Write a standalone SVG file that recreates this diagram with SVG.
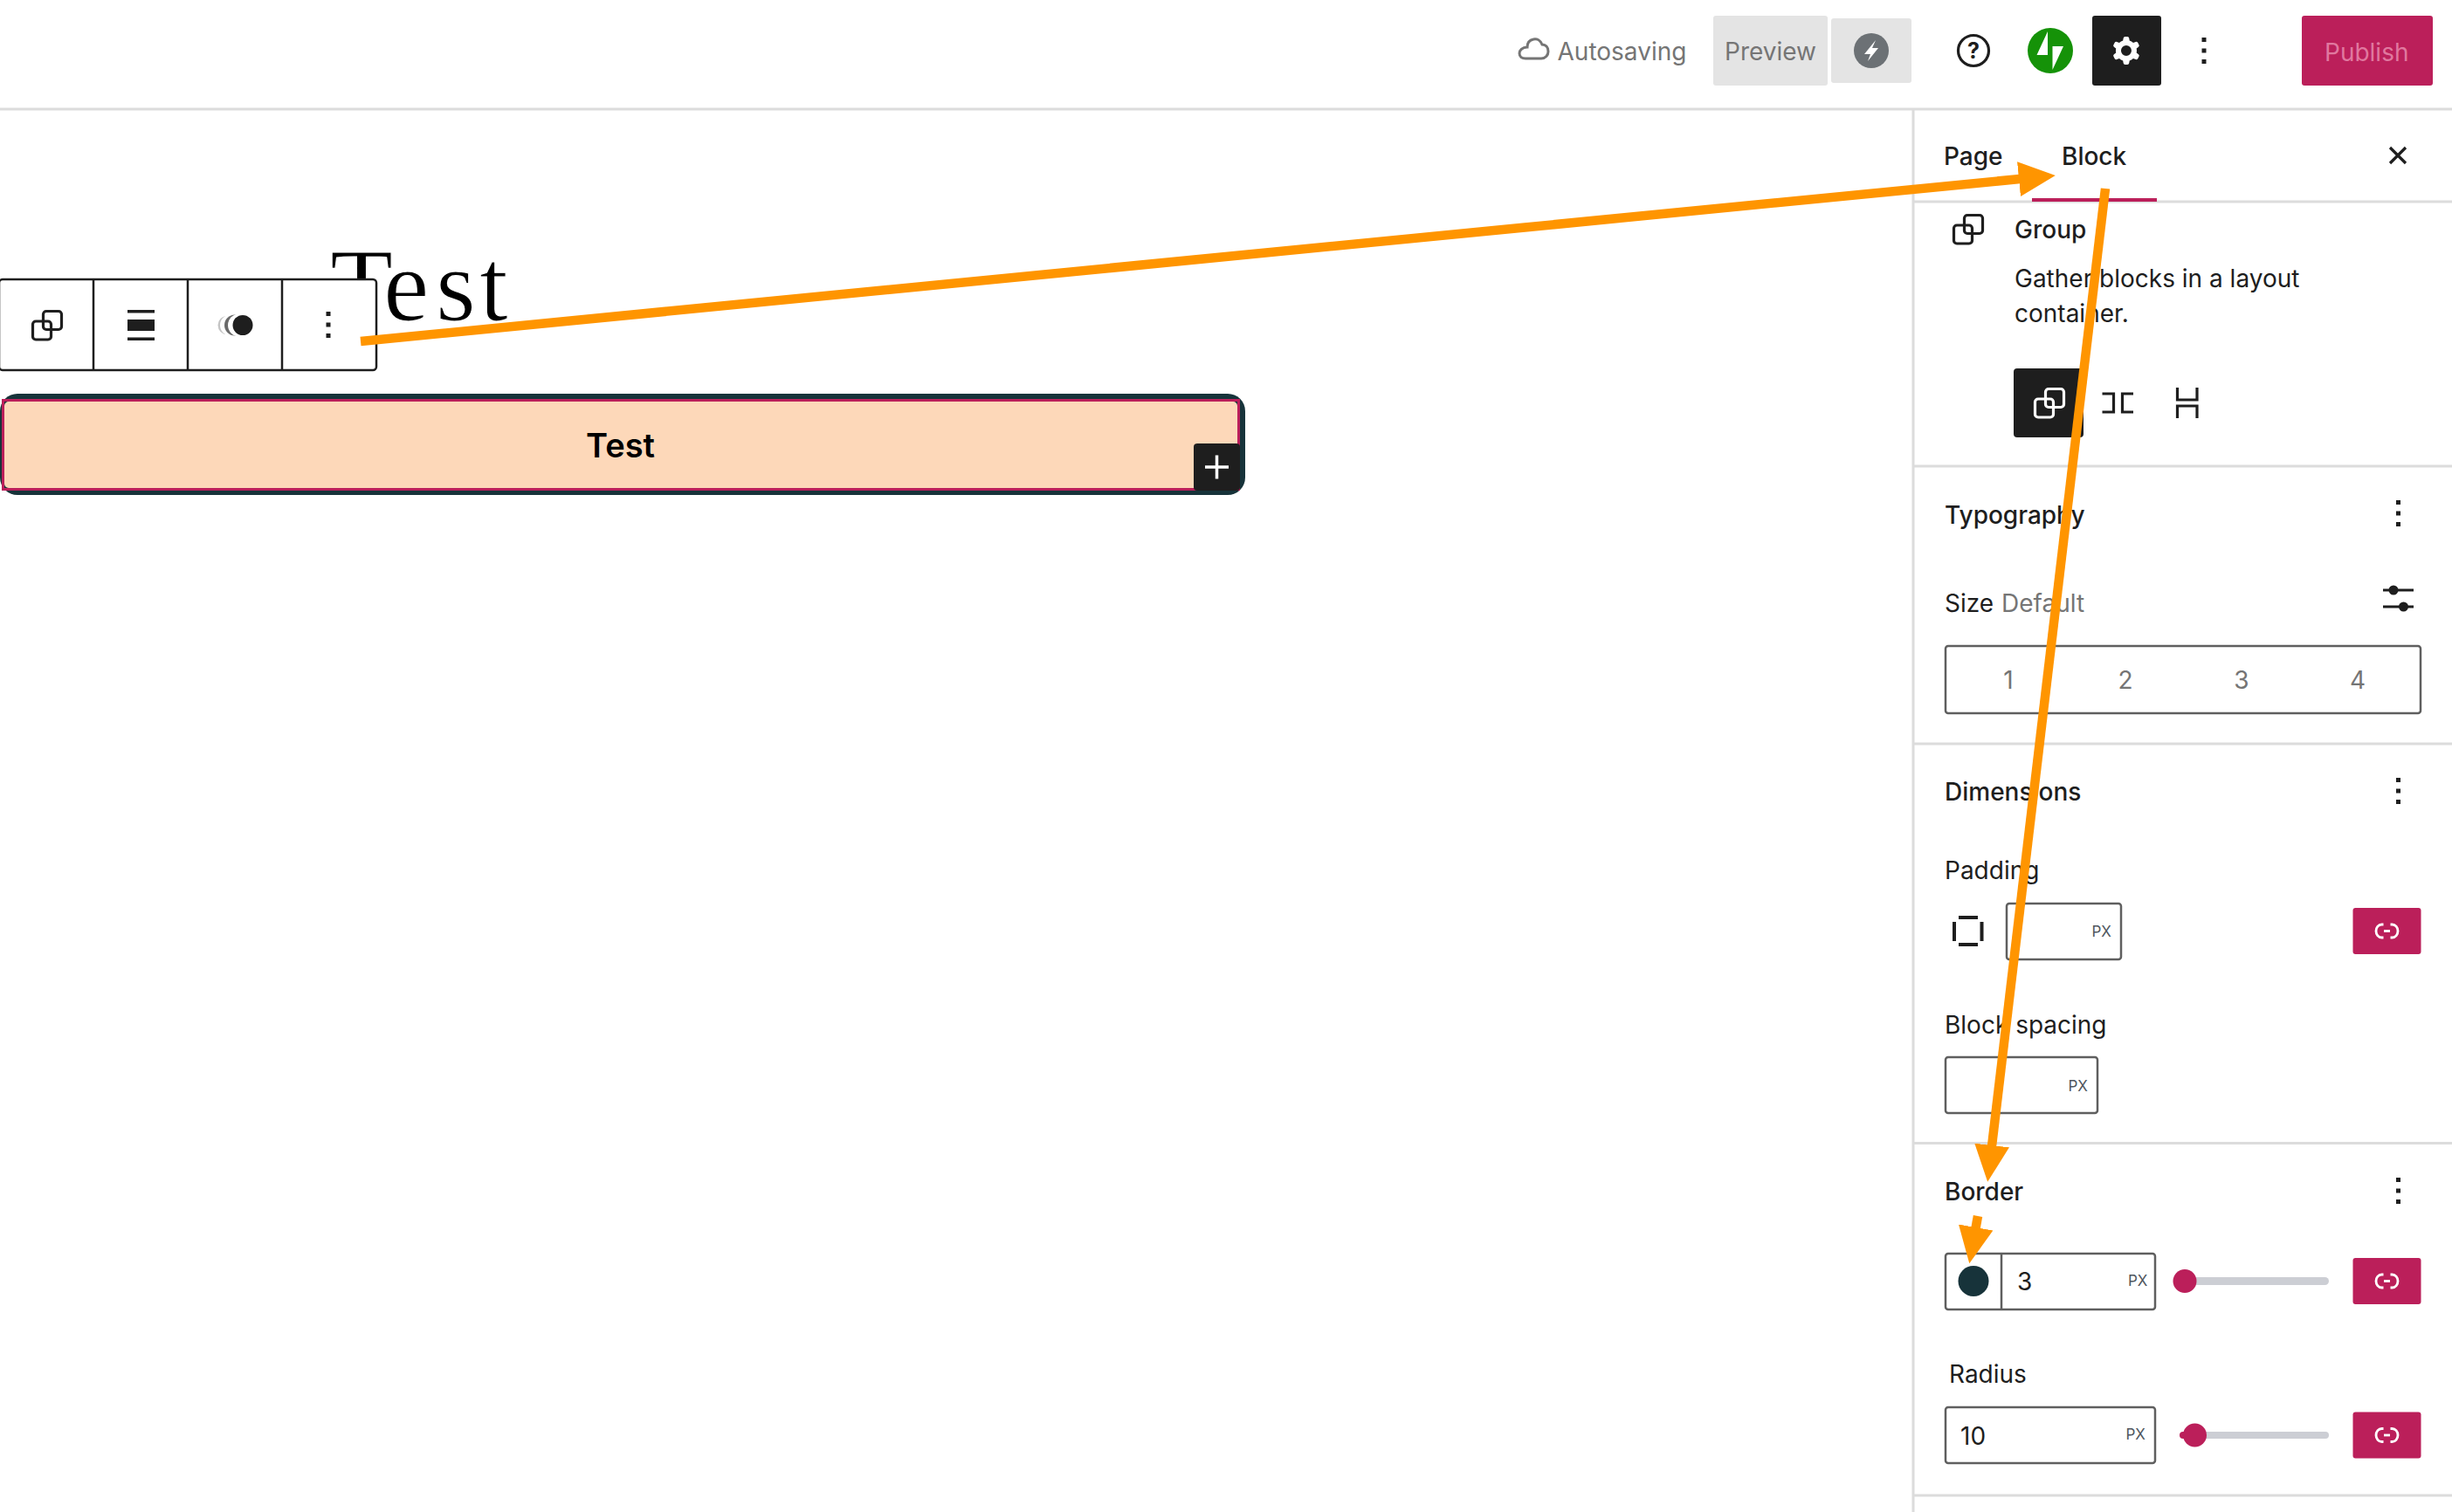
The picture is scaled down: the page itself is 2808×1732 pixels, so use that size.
<svg xmlns="http://www.w3.org/2000/svg" xmlns:xlink="http://www.w3.org/1999/xlink" width="2808" height="1732" viewBox="0 0 2808 1732">
<style>
text{font-family:"Inter","Noto Sans","Liberation Sans",sans-serif;font-size:28px;fill:#1e1e1e}
.hd{font-weight:500}
.gr{fill:#757575}
.px{font-size:17px;fill:#50575e}
.rule{stroke:#dcdcdc;stroke-width:3;fill:none}
.box{fill:#fff;stroke:#5f5f5f;stroke-width:2.5}
.red{fill:#bb1f5a}
.ic{fill:none;stroke:#1e1e1e;stroke-width:3.2}
.icw{fill:none;stroke:#fff;stroke-width:3.2}
.dot{fill:#1e1e1e}
.conn{fill:none;stroke:#ff9500;stroke-width:10.5;marker-end:url(#ah)}
</style>
<defs>
<marker id="ah" markerUnits="userSpaceOnUse" markerWidth="44" markerHeight="42" refX="1" refY="21" orient="auto"><path d="M0 1 42 21 0 41Z" fill="#ff9500"/></marker>
<g id="grp"><rect x="13.5" y="1.5" width="21" height="21" rx="3.5"/><rect x="1.5" y="13" width="21" height="21" rx="3.5"/></g>
<g id="dots" class="dot"><rect x="-2.5" y="-15" width="5" height="5"/><rect x="-2.5" y="-2.5" width="5" height="5"/><rect x="-2.5" y="10" width="5" height="5"/></g>
<g id="lnk"><rect x="-39" y="-26.5" width="78" height="53" rx="3" class="red"/><path d="M-4 -7.500H-6A6.500 7.500 0 0 0 -6 7.500H-4M4 -7.500H6A6.500 7.500 0 0 1 6 7.500H4" fill="none" stroke="#fff" stroke-width="2.800"/><path d="M-3.500 0H3.500" stroke="#fff" stroke-width="2.800"/></g>
</defs>
<rect width="2808" height="1732" fill="#fff"/>

<g id="header">
<path d="M0 125H2808" class="rule"/>
<path id="cloud" d="M1747 67H1765C1770 67 1773 63 1773 59C1773 54 1770 51 1766 51C1764 46 1760 44 1756 45C1751 46 1749 50 1749 54C1743 54 1740 58 1740 61C1740 65 1743 67 1747 67Z" fill="none" stroke="#757575" stroke-width="3"/>
<text x="1783.500" y="69" class="gr">Autosaving</text>
<g id="preview"><rect x="1962" y="18" width="131" height="80" rx="3" fill="#e4e4e4"/><text x="1975" y="69" class="gr">Preview</text></g>
<g id="launch"><rect x="2097" y="21" width="92" height="74" rx="3" fill="#e4e4e4"/><circle cx="2143" cy="58" r="20" fill="#6c7175"/><path d="M2148 46 2135 62H2142L2139 70 2151 55H2144Z" fill="#fff"/></g>
<g id="help"><circle cx="2260" cy="58" r="17.500" fill="none" stroke="#1e1e1e" stroke-width="3.200"/><text x="2260" y="67" text-anchor="middle" font-weight="700" style="font-size:25px">?</text></g>
<g id="jetpack"><circle cx="2348" cy="58" r="26" fill="#159208"/><path d="M2345 36V63H2332.500ZM2350.500 80V53H2363Z" fill="#fff"/></g>
<g id="settings"><rect x="2396" y="18" width="79" height="80" rx="3" fill="#1e1e1e"/><path transform="translate(2411.100 34) scale(2)" fill="#fff" fill-rule="evenodd" d="M10.289 4.836A1 1 0 0111.275 4h1.306a1 1 0 01.987.836l.244 1.466c.787.26 1.503.679 2.108 1.218l1.393-.522a1 1 0 011.216.437l.653 1.13a1 1 0 01-.23 1.273l-1.148.944a6.025 6.025 0 010 2.435l1.149.946a1 1 0 01.23 1.272l-.653 1.13a1 1 0 01-1.216.437l-1.394-.522c-.605.54-1.32.958-2.108 1.218l-.244 1.466a1 1 0 01-.987.836h-1.306a1 1 0 01-.986-.836l-.244-1.466a5.995 5.995 0 01-2.108-1.218l-1.394.522a1 1 0 01-1.217-.436l-.653-1.131a1 1 0 01.23-1.272l1.149-.946a6.026 6.026 0 010-2.435l-1.148-.944a1 1 0 01-.23-1.272l.653-1.131a1 1 0 011.217-.437l1.393.522a5.994 5.994 0 012.108-1.218l.244-1.466zM14.929 12a3 3 0 11-6 0 3 3 0 016 0z"/></g>
<use xlink:href="#dots" x="2524" y="58"/>
<g id="publish"><rect x="2636" y="18" width="150" height="80" rx="3" class="red"/><text x="2662" y="70" style="fill:#e0789f">Publish</text></g>
</g>

<g id="canvas">
<text id="title" x="378 439 499 549" y="367" style="font-family:'Liberation Serif',serif;font-size:118px;fill:#000;stroke:#fff;stroke-width:1.2">Test</text>
<g id="block-toolbar">
<rect x="-1" y="320" width="432" height="104" rx="4" fill="#fff" stroke="#1e1e1e" stroke-width="2.500"/>
<path d="M107 320V424M215 320V424M323 320V424" stroke="#1e1e1e" stroke-width="2.500"/>
<use xlink:href="#grp" x="36" y="355" class="ic"/>
<g class="dot"><rect x="146" y="355" width="31" height="3.500"/><rect x="146" y="366" width="31" height="13"/><rect x="146" y="386.500" width="31" height="3.500"/></g>
<circle cx="260" cy="372.500" r="10.500" fill="#c4c4c4"/>
<circle cx="264" cy="372.500" r="12" fill="#fff"/>
<circle cx="269" cy="372.500" r="12" fill="#6a6a6a"/>
<circle cx="274" cy="372.500" r="13" fill="#fff"/>
<circle cx="278" cy="372.500" r="11.500" fill="#1e1e1e"/>
<use xlink:href="#dots" x="376" y="372"/>
</g>
<g id="button-block">
<rect x="0" y="451" width="1426" height="116" rx="20" fill="#17333a"/>
<rect x="5" y="460" width="1412" height="99" rx="5" fill="#fdd8b9"/>
<rect x="3.500" y="458.500" width="1415" height="102" fill="none" stroke="#bb1f5a" stroke-width="3"/>
<text x="710.500" y="524" text-anchor="middle" font-weight="600" style="font-size:38px;fill:#000">Test</text>
</g>
<g id="inserter"><rect x="1367" y="508" width="53" height="54" rx="4" fill="#1e1e1e"/><path d="M1380 535H1407M1393.500 521.500V548.500" stroke="#fff" stroke-width="3.500"/></g>
</g>

<g id="sidebar">
<path d="M2191 125V1732M2191 231H2808M2191 534H2808M2191 852H2808M2191 1309.500H2808M2191 1713H2808" class="rule"/>
<g id="tabs">
<text x="2226" y="189" class="hd">Page</text>
<text x="2361" y="189" class="hd">Block</text>
<rect x="2327" y="227" width="143" height="4" class="red"/>
<path d="M2737 169 2755 187M2755 169 2737 187" stroke="#1e1e1e" stroke-width="3.200"/>
</g>
<g id="block-card">
<use xlink:href="#grp" x="2236" y="245" class="ic"/>
<text x="2307" y="273" class="hd">Group</text>
<text x="2307" y="329">Gather blocks in a layout</text>
<text x="2307" y="369">container.</text>
<rect x="2306" y="422" width="80" height="79" rx="4" fill="#1e1e1e"/>
<use xlink:href="#grp" x="2329" y="444" class="icw"/>
<path d="M2407.500 451H2420.500V472H2407.500M2443 451H2430.500V472H2443M2493.500 444V458H2516V444M2493.500 479V465H2516V479" class="ic"/>
</g>
<g id="typography">
<text x="2227" y="600" class="hd">Typography</text>
<use xlink:href="#dots" x="2746.500" y="588"/>
<text x="2227" y="701">Size</text><text x="2292" y="701" class="gr">Default</text>
<path d="M2729 676H2764M2729 695H2764" class="ic"/><circle cx="2741" cy="676" r="5.500" class="dot"/><circle cx="2752.500" cy="695" r="5.500" class="dot"/>
<rect x="2228" y="740" width="544" height="77" rx="3" class="box"/>
<g text-anchor="middle"><text x="2300" y="789" class="gr">1</text><text x="2434" y="789" class="gr">2</text><text x="2567" y="789" class="gr">3</text><text x="2700" y="789" class="gr">4</text></g>
</g>
<g id="dimensions">
<text x="2227" y="917" class="hd">Dimensions</text>
<use xlink:href="#dots" x="2746.500" y="906"/>
<text x="2227" y="1007">Padding</text>
<g class="dot"><rect x="2243" y="1049" width="22" height="4"/><rect x="2243" y="1080" width="22" height="4"/><rect x="2236" y="1056" width="4" height="22"/><rect x="2267.500" y="1056" width="4" height="22"/></g>
<rect x="2298" y="1035" width="131" height="64" rx="3" class="box"/>
<text x="2395.500" y="1073" class="px">PX</text>
<use xlink:href="#lnk" x="2733.500" y="1066.500"/>
<text x="2227" y="1184">Block spacing</text>
<rect x="2228" y="1211" width="174" height="64" rx="3" class="box"/>
<text x="2368.500" y="1250" class="px">PX</text>
</g>
<g id="border">
<text x="2227" y="1375" class="hd">Border</text>
<use xlink:href="#dots" x="2746.500" y="1364"/>
<rect x="2228" y="1436" width="240" height="64" rx="3" class="box"/>
<path d="M2292 1436V1500" stroke="#5f5f5f" stroke-width="2.500"/>
<circle cx="2260" cy="1467.500" r="17.500" fill="#17333a"/>
<text x="2310" y="1478">3</text>
<text x="2437" y="1473" class="px">PX</text>
<rect x="2500" y="1463" width="167" height="9" rx="4.500" fill="#ccced4"/>
<circle cx="2502" cy="1467.500" r="13.500" class="red"/>
<use xlink:href="#lnk" x="2733.500" y="1467.500"/>
</g>
<g id="radius">
<text x="2232" y="1584">Radius</text>
<rect x="2228" y="1612" width="240" height="64" rx="3" class="box"/>
<text x="2245" y="1654.500">10</text>
<text x="2434.500" y="1649" class="px">PX</text>
<rect x="2500" y="1640" width="167" height="8" rx="4" fill="#ccced4"/>
<rect x="2496" y="1640" width="16" height="8" rx="4" class="red"/>
<circle cx="2513.500" cy="1644" r="13.500" class="red"/>
<use xlink:href="#lnk" x="2733.500" y="1644"/>
</g>
</g>

<g id="connectors">
<path d="M413 391 2313 205" class="conn"/>
<path d="M2411 216 2281 1313" class="conn"/>
<path d="M2265 1393 2262.500 1407" class="conn"/>
</g>
</svg>
